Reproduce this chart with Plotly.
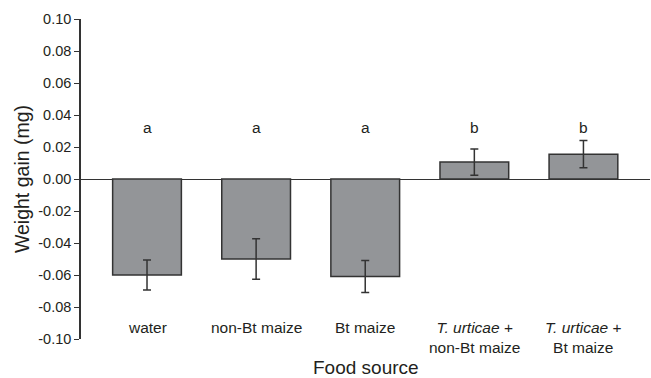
import plotly.graph_objects as go

categories = ["water", "non-Bt maize", "Bt maize", "T. urticae + non-Bt maize", "T. urticae + Bt maize"]
tick_labels = ["water", "non-Bt maize", "Bt maize",
               "<i>T. urticae</i> +<br>non-Bt maize", "<i>T. urticae</i> +<br>Bt maize"]
means = [-0.060, -0.050, -0.061, 0.0106, 0.0155]
se = [0.0093, 0.0127, 0.0100, 0.0082, 0.0085]
letters = ["a", "a", "a", "b", "b"]
y_tickvals = [-0.10, -0.08, -0.06, -0.04, -0.02, 0.0, 0.02, 0.04, 0.06, 0.08, 0.10]
y_ticktext = ["-0.10", "-0.08", "-0.06", "-0.04", "-0.02", "0.00", "0.02", "0.04", "0.06", "0.08", "0.10"]
letter_y = 0.032
label_y = -0.086

TXT = "#231f20"
FONT = "Liberation Sans, Arial, sans-serif"

fig = go.Figure()
fig.add_trace(go.Bar(
    x=categories, y=means,
    marker=dict(color="#939598", line=dict(color="#333333", width=1.5)),
    error_y=dict(type="data", array=se, visible=True, color="#333333", thickness=1.5, width=4),
    width=0.63,
))

for c, l in zip(categories, letters):
    fig.add_annotation(x=c, y=letter_y, text=l, showarrow=False, xref="x", yref="y",
                       yanchor="middle", font=dict(size=15.5, color=TXT, family=FONT))
for c, t in zip(categories, tick_labels):
    fig.add_annotation(x=c, y=label_y, text=t, showarrow=False, xref="x", yref="y",
                       yanchor="top", align="center", font=dict(size=15.5, color=TXT, family=FONT))

fig.add_annotation(x=0.5, y=-0.05, xref="paper", yref="paper", text="Food source",
                   showarrow=False, yanchor="top", font=dict(size=19, color=TXT, family=FONT))

fig.update_layout(
    width=651, height=378,
    margin=dict(l=81, r=1, t=19, b=39),
    paper_bgcolor="white", plot_bgcolor="white",
    showlegend=False,
    font=dict(family=FONT, color=TXT),
    xaxis=dict(range=[-0.605, 4.61], showticklabels=False, ticks="", showline=False,
               showgrid=False, zeroline=False),
    yaxis=dict(range=[-0.10, 0.10], tickmode="array",
               tickvals=y_tickvals, ticktext=y_ticktext,
               ticks="outside", ticklen=5, tickwidth=1.2, tickcolor="#333333",
               showline=True, linecolor="#333333", linewidth=1.5,
               showgrid=False, zeroline=True, zerolinecolor="#333333", zerolinewidth=1.2,
               tickfont=dict(size=14.5, color=TXT, family=FONT),
               title=dict(text="Weight gain (mg)", font=dict(size=19.5, color=TXT, family=FONT), standoff=3)),
)

fig.write_html("out.html", config={"displayModeBar": False})

# remove the default page margin so the figure sits at the window's top-left corner
with open("out.html", "r", encoding="utf-8") as f:
    html = f.read()
html = html.replace("<head>", "<head><style>html,body{margin:0;padding:0;overflow:hidden;}</style>", 1)
with open("out.html", "w", encoding="utf-8") as f:
    f.write(html)
